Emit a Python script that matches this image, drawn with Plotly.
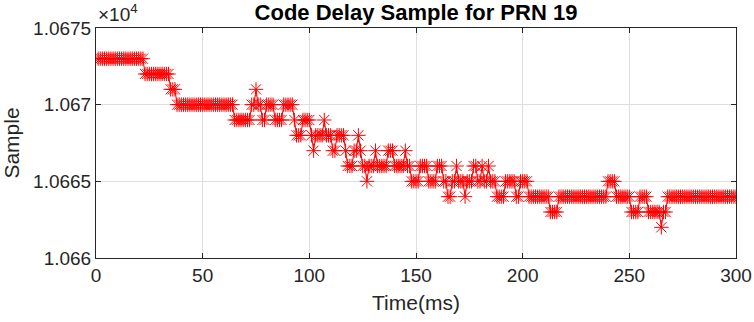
import plotly.graph_objects as go

# code delay samples, one per ms (t = 1..300)
time_ms = list(range(1, 301))
sample = [
    10673, 10673, 10673, 10673, 10673, 10673, 10673, 10673, 10673, 10673,
    10673, 10673, 10673, 10673, 10673, 10673, 10673, 10673, 10673, 10673,
    10673, 10673, 10672, 10672, 10672, 10672, 10672, 10672, 10672, 10672,
    10672, 10672, 10672, 10672, 10671, 10671, 10671, 10670, 10670, 10670,
    10670, 10670, 10670, 10670, 10670, 10670, 10670, 10670, 10670, 10670,
    10670, 10670, 10670, 10670, 10670, 10670, 10670, 10670, 10670, 10670,
    10670, 10670, 10670, 10670, 10669, 10669, 10669, 10669, 10669, 10669,
    10669, 10669, 10670, 10670, 10671, 10670, 10670, 10669, 10669, 10670,
    10670, 10670, 10670, 10669, 10669, 10669, 10669, 10670, 10670, 10670,
    10670, 10670, 10669, 10668, 10668, 10668, 10669, 10669, 10669, 10669,
    10668, 10667, 10668, 10668, 10668, 10668, 10669, 10668, 10668, 10668,
    10667, 10667, 10668, 10668, 10668, 10668, 10667, 10666, 10666, 10666,
    10667, 10667, 10668, 10667, 10666, 10666, 10665, 10666, 10666, 10666,
    10667, 10666, 10666, 10666, 10666, 10666, 10667, 10667, 10667, 10666,
    10666, 10666, 10666, 10666, 10667, 10666, 10666, 10665, 10665, 10665,
    10665, 10666, 10666, 10666, 10666, 10665, 10665, 10665, 10665, 10666,
    10666, 10666, 10665, 10665, 10664, 10664, 10665, 10665, 10666, 10665,
    10665, 10665, 10664, 10665, 10665, 10665, 10666, 10666, 10665, 10665,
    10666, 10665, 10665, 10666, 10665, 10665, 10665, 10664, 10664, 10664,
    10664, 10665, 10665, 10665, 10665, 10665, 10664, 10664, 10665, 10665,
    10665, 10665, 10664, 10664, 10664, 10664, 10664, 10664, 10664, 10664,
    10664, 10664, 10663, 10663, 10663, 10663, 10664, 10664, 10664, 10664,
    10664, 10664, 10664, 10664, 10664, 10664, 10664, 10664, 10664, 10664,
    10664, 10664, 10664, 10664, 10664, 10664, 10664, 10664, 10664, 10665,
    10665, 10665, 10665, 10664, 10664, 10664, 10664, 10664, 10664, 10664,
    10663, 10663, 10663, 10663, 10664, 10664, 10664, 10664, 10663, 10663,
    10663, 10663, 10663, 10663, 10662, 10663, 10663, 10664, 10664, 10664,
    10664, 10664, 10664, 10664, 10664, 10664, 10664, 10664, 10664, 10664,
    10664, 10664, 10664, 10664, 10664, 10664, 10664, 10664, 10664, 10664,
    10664, 10664, 10664, 10664, 10664, 10664, 10664, 10664, 10664, 10664,
]

x_ticks = [0, 50, 100, 150, 200, 250, 300]
y_ticks = [10660, 10665, 10670, 10675]
y_tick_text = ["1.066", "1.0665", "1.067", "1.0675"]

font_family = "Liberation Sans, Arial, sans-serif"
axis_color = "#262626"

fig = go.Figure()
fig.add_trace(go.Scatter(
    x=time_ms, y=sample, mode="lines+markers",
    line=dict(color="red", width=1),
    marker=dict(symbol="asterisk", size=12, color="red",
                line=dict(color="red", width=1)),
    showlegend=False,
))

axis_common = dict(
    showline=True, linecolor=axis_color, linewidth=1, mirror="ticks",
    ticks="inside", ticklen=5, tickcolor=axis_color, automargin=False,
    showgrid=True, gridcolor="#dfdfdf", gridwidth=1, zeroline=False,
    tickfont=dict(size=19, color=axis_color, family=font_family),
)

fig.update_layout(
    width=754, height=322,
    margin=dict(l=96, r=18, t=28, b=64),
    paper_bgcolor="white", plot_bgcolor="white",
    title=dict(text="<b>Code Delay Sample for PRN 19</b>", xref="paper", x=0.5,
               xanchor="center", yref="container", y=0.962, yanchor="middle",
               font=dict(size=22, color="black", family=font_family)),
    xaxis=dict(range=[0, 300], tickvals=x_ticks,
               title=dict(text="Time(ms)", standoff=10,
                          font=dict(size=21, color=axis_color, family=font_family)),
               **axis_common),
    yaxis=dict(range=[10660, 10675], tickvals=y_ticks, ticktext=y_tick_text,
               title=dict(text="Sample", standoff=10,
                          font=dict(size=21, color=axis_color, family=font_family)),
               **axis_common),
    annotations=[dict(text="×10<sup>4</sup>", xref="paper", yref="paper",
                      x=0, y=1.0, xanchor="left", yanchor="bottom", showarrow=False,
                      yshift=1,
                      font=dict(size=19, color=axis_color, family=font_family))],
)

# drop the browser's default 8px body margin so the figure sits at the window corner
fig.write_html("out.html", config={"displayModeBar": False},
               post_script="document.body.style.margin='0';")
